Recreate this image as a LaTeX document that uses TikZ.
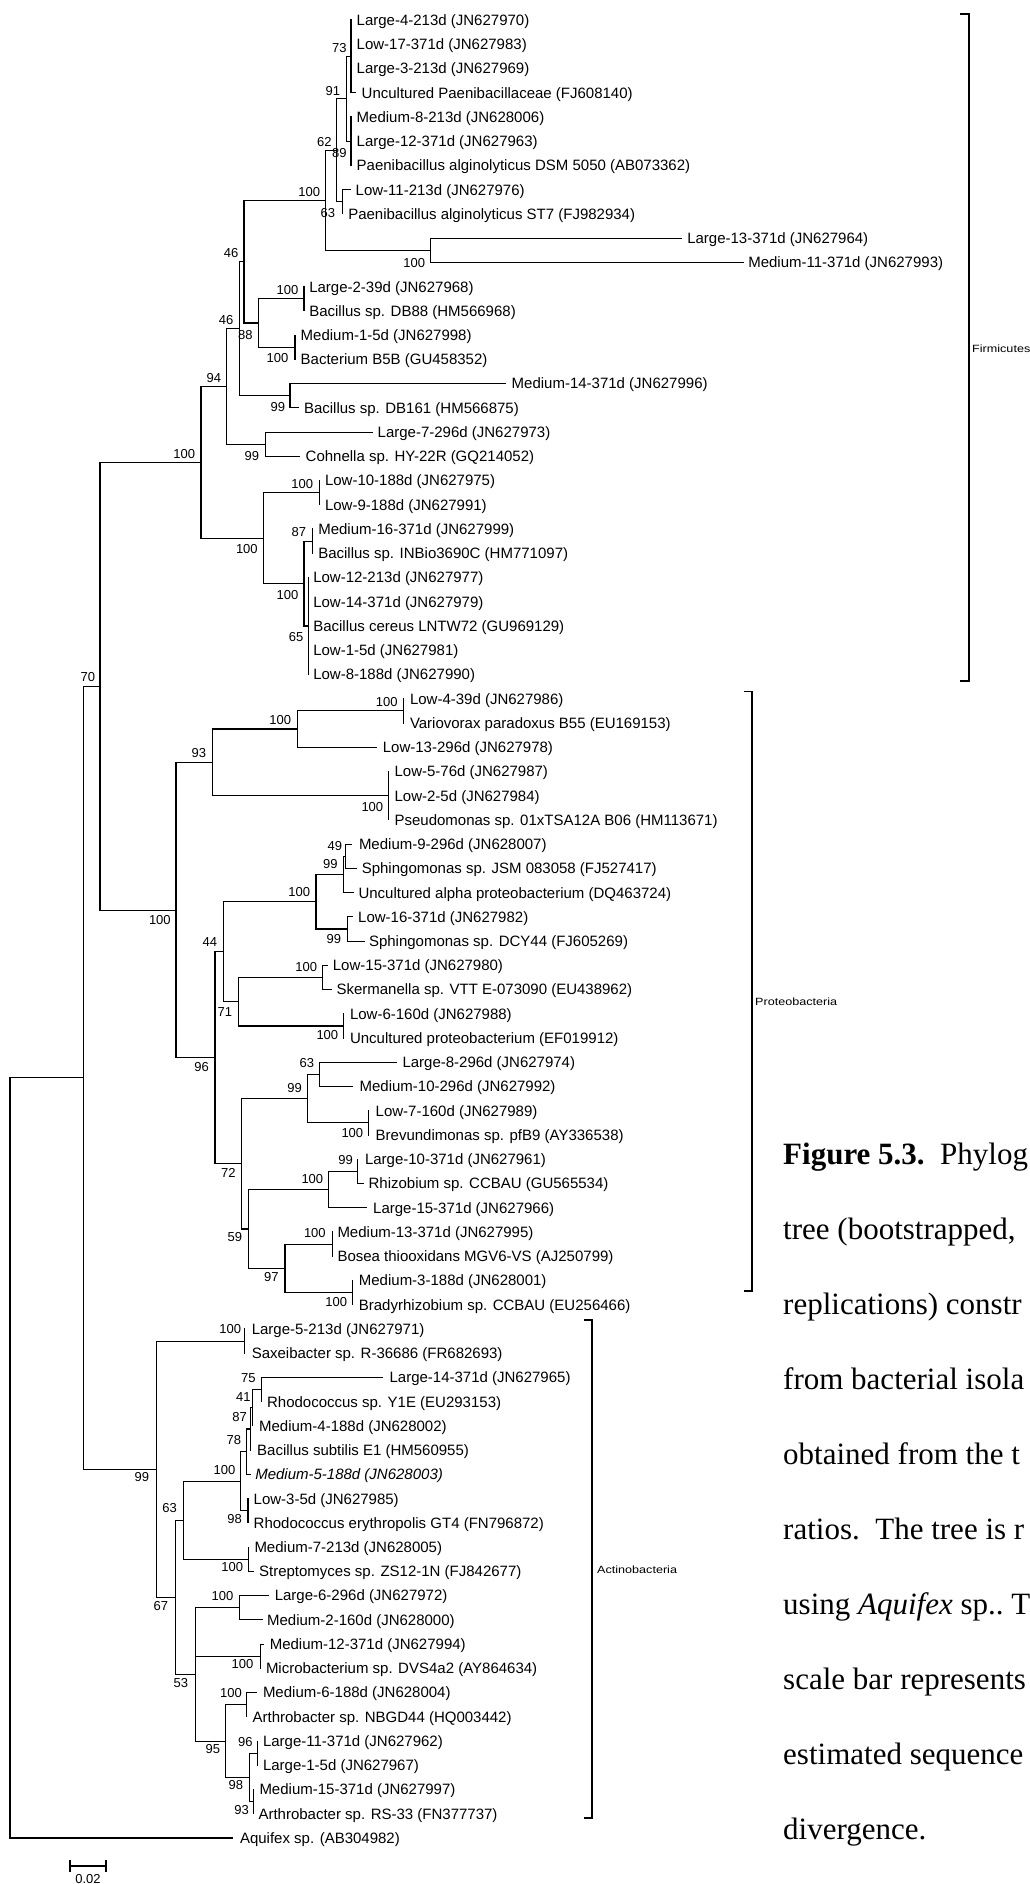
\documentclass[tikz,border=0pt]{standalone}
\usepackage{fontspec}
\setmainfont{Liberation Sans}
\newfontfamily\capserif{Liberation Serif}
\newcommand\myLf{\fontsize{15}{18}\selectfont}
\newcommand\myBs{\fontsize{13}{15}\selectfont}
\newcommand\myGf{\fontsize{10.5}{12}\selectfont}
\newcommand\myCf{\capserif\fontsize{31}{37}\selectfont}
\newcommand\leafat[5]{\coordinate (t#1) at (#2,#4); \node[leaf] (l#1) at (#3,#4) {#5};}
\tikzset{
  br/.style={line width=1.1pt, line cap=rect},
  leaf/.style={anchor=west, inner sep=0pt, outer sep=0pt, text height=10.74pt, text depth=0pt, font=\myLf},
  bs/.style={anchor=east, inner sep=0pt, outer sep=0pt, text height=9.3pt, text depth=0pt, font=\myBs},
  grp/.style={anchor=west, inner sep=0pt, font=\myGf},
  capline/.style={anchor=base west, inner sep=0pt, font=\myCf},
}
\begin{document}
\begin{tikzpicture}[x=1pt,y=-1pt]
\useasboundingbox (0,0) rectangle (1029,1884);
\clip (0,0) rectangle (1029,1884);
\fill[white] (0,0) rectangle (1029,1884);

% internal nodes
\coordinate (A) at (351,56.36);
\coordinate (B) at (351,141.2);
\coordinate (C) at (346.7,98.78);
\coordinate (E) at (342.3,201.8);
\coordinate (D) at (336.7,150.29);
\coordinate (G) at (430.7,250.28);
\coordinate (F) at (325.7,200.29);
\coordinate (K) at (304,298.76);
\coordinate (L) at (295,347.24);
\coordinate (I) at (258.3,323.0);
\coordinate (H) at (244,261.64);
\coordinate (N) at (290,395.72);
\coordinate (J) at (239.3,328.68);
\coordinate (Q) at (265.7,444.2);
\coordinate (P) at (226.7,386.44);
\coordinate (T) at (319.3,492.68);
\coordinate (V) at (312.7,541.16);
\coordinate (W) at (308.3,626.0);
\coordinate (U) at (304,583.58);
\coordinate (S) at (263.3,538.13);
\coordinate (R) at (201,462.29);
\coordinate (AC) at (403.6,710.84);
\coordinate (AB) at (297.5,729.02);
\coordinate (AD) at (388.6,795.68);
\coordinate (AA) at (212.5,762.35);
\coordinate (AJ) at (345.7,856.28);
\coordinate (AI) at (343.6,874.46);
\coordinate (AK) at (347.1,929.0);
\coordinate (AH) at (316,901.73);
\coordinate (AM) at (322.5,977.48);
\coordinate (AN) at (343.9,1025.96);
\coordinate (AL) at (238.2,1001.72);
\coordinate (AF) at (223.2,951.73);
\coordinate (AP) at (319.6,1074.44);
\coordinate (AQ) at (368.6,1122.92);
\coordinate (AO) at (307.1,1098.68);
\coordinate (AT) at (357.9,1171.4);
\coordinate (AS) at (328.6,1189.58);
\coordinate (AV) at (332.1,1244.12);
\coordinate (AW) at (352.5,1292.6);
\coordinate (AU) at (285,1268.36);
\coordinate (AR) at (248.2,1228.97);
\coordinate (AG) at (241.8,1163.83);
\coordinate (AE) at (215,1057.78);
\coordinate (Y) at (176,910.07);
\coordinate (X) at (100,686.18);
\coordinate (BB) at (244.9,1341.08);
\coordinate (n75) at (261.4,1389.56);
\coordinate (n41) at (252.6,1407.74);
\coordinate (n87) at (250.7,1428.95);
\coordinate (n78) at (246.8,1451.68);
\coordinate (n98a) at (248,1510.76);
\coordinate (BE) at (240.3,1481.22);
\coordinate (BG) at (248.8,1559.24);
\coordinate (BD) at (183.7,1520.23);
\coordinate (BI) at (239.2,1607.72);
\coordinate (BJ) at (260.2,1656.2);
\coordinate (BL) at (246.8,1704.68);
\coordinate (n96) at (257.2,1753.16);
\coordinate (n93) at (253.5,1801.64);
\coordinate (n98b) at (249.5,1777.4);
\coordinate (BK) at (225.8,1741.04);
\coordinate (BH) at (195.2,1674.38);
\coordinate (BC) at (175.3,1597.3);
\coordinate (BA) at (156.1,1469.19);
\coordinate (Z) at (83.5,1077.69);
\coordinate (O) at (10,1457.8);

% leaves: index, tip x, label x, y, text
\leafat{1}{351}{356.7}{20.0}{Large-4-213d (JN627970)}
\leafat{2}{351}{356.7}{44.24}{Low-17-371d (JN627983)}
\leafat{3}{351}{356.7}{68.48}{Large-3-213d (JN627969)}
\leafat{4}{355}{361.7}{92.72}{Uncultured Paenibacillaceae (FJ608140)}
\leafat{5}{351}{356.7}{116.96}{Medium-8-213d (JN628006)}
\leafat{6}{351}{356.7}{141.2}{Large-12-371d (JN627963)}
\leafat{7}{351}{356.7}{165.44}{Paenibacillus alginolyticus DSM 5050 (AB073362)}
\leafat{8}{350.7}{355.7}{189.68}{Low-11-213d (JN627976)}
\leafat{9}{342.3}{348.3}{213.92}{Paenibacillus alginolyticus ST7 (FJ982934)}
\leafat{10}{681.7}{687.3}{238.16}{Large-13-371d (JN627964)}
\leafat{11}{743}{748.3}{262.4}{Medium-11-371d (JN627993)}
\leafat{12}{304}{309.3}{286.64}{Large-2-39d (JN627968)}
\leafat{13}{304}{309.3}{310.88}{Bacillus sp. DB88 (HM566968)}
\leafat{14}{295}{300.7}{335.12}{Medium-1-5d (JN627998)}
\leafat{15}{295}{300.7}{359.36}{Bacterium B5B (GU458352)}
\leafat{16}{505}{511.7}{383.6}{Medium-14-371d (JN627996)}
\leafat{17}{298.3}{304}{407.84}{Bacillus sp. DB161 (HM566875)}
\leafat{18}{372.7}{377.7}{432.08}{Large-7-296d (JN627973)}
\leafat{19}{299.3}{305.7}{456.32}{Cohnella sp. HY-22R (GQ214052)}
\leafat{20}{319.3}{325}{480.56}{Low-10-188d (JN627975)}
\leafat{21}{319.3}{325}{504.8}{Low-9-188d (JN627991)}
\leafat{22}{312.7}{318.3}{529.04}{Medium-16-371d (JN627999)}
\leafat{23}{312.7}{318.3}{553.28}{Bacillus sp. INBio3690C (HM771097)}
\leafat{24}{308.3}{313.3}{577.52}{Low-12-213d (JN627977)}
\leafat{25}{308.3}{313.3}{601.76}{Low-14-371d (JN627979)}
\leafat{26}{308.3}{313.3}{626.0}{Bacillus cereus LNTW72 (GU969129)}
\leafat{27}{308.3}{313.3}{650.24}{Low-1-5d (JN627981)}
\leafat{28}{308.3}{313.3}{674.48}{Low-8-188d (JN627990)}
\leafat{29}{403.6}{410}{698.72}{Low-4-39d (JN627986)}
\leafat{30}{403.6}{410}{722.96}{Variovorax paradoxus B55 (EU169153)}
\leafat{31}{376.8}{382.9}{747.2}{Low-13-296d (JN627978)}
\leafat{32}{388.6}{394.6}{771.44}{Low-5-76d (JN627987)}
\leafat{33}{388.6}{394.6}{795.68}{Low-2-5d (JN627984)}
\leafat{34}{388.6}{394.6}{819.92}{Pseudomonas sp. 01xTSA12A B06 (HM113671)}
\leafat{35}{351.8}{359}{844.16}{Medium-9-296d (JN628007)}
\leafat{36}{356}{361.8}{868.4}{Sphingomonas sp. JSM 083058 (FJ527417)}
\leafat{37}{353.6}{358.5}{892.64}{Uncultured alpha proteobacterium (DQ463724)}
\leafat{38}{352.5}{358.2}{916.88}{Low-16-371d (JN627982)}
\leafat{39}{364.3}{369}{941.12}{Sphingomonas sp. DCY44 (FJ605269)}
\leafat{40}{327.5}{332.9}{965.36}{Low-15-371d (JN627980)}
\leafat{41}{331}{336.5}{989.6}{Skermanella sp. VTT E-073090 (EU438962)}
\leafat{42}{343.9}{350}{1013.84}{Low-6-160d (JN627988)}
\leafat{43}{343.9}{350}{1038.08}{Uncultured proteobacterium (EF019912)}
\leafat{44}{396.4}{402.5}{1062.32}{Large-8-296d (JN627974)}
\leafat{45}{352.9}{359.6}{1086.56}{Medium-10-296d (JN627992)}
\leafat{46}{368.6}{375.7}{1110.8}{Low-7-160d (JN627989)}
\leafat{47}{368.6}{375.7}{1135.04}{Brevundimonas sp. pfB9 (AY336538)}
\leafat{48}{357.9}{365}{1159.28}{Large-10-371d (JN627961)}
\leafat{49}{363.2}{368.6}{1183.52}{Rhizobium sp. CCBAU (GU565534)}
\leafat{50}{366.8}{373.2}{1207.76}{Large-15-371d (JN627966)}
\leafat{51}{332.1}{337.5}{1232.0}{Medium-13-371d (JN627995)}
\leafat{52}{332.1}{337.5}{1256.24}{Bosea thiooxidans MGV6-VS (AJ250799)}
\leafat{53}{352.5}{358.9}{1280.48}{Medium-3-188d (JN628001)}
\leafat{54}{352.5}{358.9}{1304.72}{Bradyrhizobium sp. CCBAU (EU256466)}
\leafat{55}{244.9}{251.8}{1328.96}{Large-5-213d (JN627971)}
\leafat{56}{244.9}{251.8}{1353.2}{Saxeibacter sp. R-36686 (FR682693)}
\leafat{57}{382.7}{389.6}{1377.44}{Large-14-371d (JN627965)}
\leafat{58}{261.4}{267.1}{1401.68}{Rhodococcus sp. Y1E (EU293153)}
\leafat{59}{252.6}{259.1}{1425.92}{Medium-4-188d (JN628002)}
\leafat{60}{250.7}{257.2}{1450.16}{Bacillus subtilis E1 (HM560955)}
\leafat{61}{250.7}{255.3}{1474.4}{\itshape Medium-5-188d (JN628003)}
\leafat{62}{248}{253.7}{1498.64}{Low-3-5d (JN627985)}
\leafat{63}{248}{253.7}{1522.88}{Rhodococcus erythropolis GT4 (FN796872)}
\leafat{64}{248.8}{254.5}{1547.12}{Medium-7-213d (JN628005)}
\leafat{65}{253.4}{259.1}{1571.36}{Streptomyces sp. ZS12-1N (FJ842677)}
\leafat{66}{268.7}{274.8}{1595.6}{Large-6-296d (JN627972)}
\leafat{67}{262.2}{267.1}{1619.84}{Medium-2-160d (JN628000)}
\leafat{68}{263.3}{269.8}{1644.08}{Medium-12-371d (JN627994)}
\leafat{69}{260.2}{266}{1668.32}{Microbacterium sp. DVS4a2 (AY864634)}
\leafat{70}{256}{263}{1692.56}{Medium-6-188d (JN628004)}
\leafat{71}{246.8}{252.6}{1716.8}{Arthrobacter sp. NBGD44 (HQ003442)}
\leafat{72}{257.2}{263}{1741.04}{Large-11-371d (JN627962)}
\leafat{73}{257.2}{263}{1765.28}{Large-1-5d (JN627967)}
\leafat{74}{253.5}{259.5}{1789.52}{Medium-15-371d (JN627997)}
\leafat{75}{253.5}{258.5}{1813.76}{Arthrobacter sp. RS-33 (FN377737)}
\leafat{76}{232}{240}{1838.0}{Aquifex sp. (AB304982)}

% branches
\foreach \p/\c in {A/t1,A/t2,A/t3,A/t4,B/t5,B/t6,B/t7,C/A,C/B,E/t8,E/t9,D/C,D/E,
  G/t10,G/t11,F/D,F/G,K/t12,K/t13,L/t14,L/t15,I/K,I/L,H/F,H/I,N/t16,N/t17,J/H,J/N,
  Q/t18,Q/t19,P/J,P/Q,T/t20,T/t21,V/t22,V/t23,W/t24,W/t25,W/t26,W/t27,W/t28,U/V,U/W,
  S/T,S/U,R/P,R/S,AC/t29,AC/t30,AB/AC,AB/t31,AD/t32,AD/t33,AD/t34,AA/AB,AA/AD,
  AJ/t35,AJ/t36,AI/AJ,AI/t37,AK/t38,AK/t39,AH/AI,AH/AK,AM/t40,AM/t41,AN/t42,AN/t43,
  AL/AM,AL/AN,AF/AH,AF/AL,AP/t44,AP/t45,AQ/t46,AQ/t47,AO/AP,AO/AQ,AT/t48,AT/t49,
  AS/AT,AS/t50,AV/t51,AV/t52,AW/t53,AW/t54,AU/AV,AU/AW,AR/AS,AR/AU,AG/AO,AG/AR,
  AE/AF,AE/AG,Y/AA,Y/AE,X/R,X/Y,BB/t55,BB/t56,n75/t57,n75/t58,n41/n75,n41/t59,
  n87/n41,n87/t60,n78/n87,n78/t61,n98a/t62,n98a/t63,BE/n78,BE/n98a,BG/t64,BG/t65,
  BD/BE,BD/BG,BI/t66,BI/t67,BJ/t68,BJ/t69,BL/t70,BL/t71,n96/t72,n96/t73,n93/t74,
  n93/t75,n98b/n96,n98b/n93,BK/BL,BK/n98b,BH/BI,BH/BJ,BH/BK,BC/BD,BC/BH,BA/BB,BA/BC,
  Z/X,Z/BA,O/Z,O/t76}
  \draw[br] (\p) |- (\c);

% bootstrap values
\foreach \n/\x/\y/\t in {1/346.7/48.3/73,2/340/90.7/91,3/331.7/141.7/62,4/346.7/153.3/89,
  5/320/192/100,6/335/213.3/63,7/425/263/100,8/238.3/253.3/46,9/298.3/290/100,
  10/252.7/335/88,11/288.3/358.3/100,12/233.3/320/46,13/221/378/94,14/285/406.7/99,
  15/259/455.7/99,16/195/454/100,17/313/484.3/100,18/257.7/549.3/100,19/306/532.3/87,
  20/298.3/595/100,21/303.3/636.7/65,22/95/676.7/70,23/397.5/702.3/100,24/291/720/100,
  25/206/752.7/93,26/383.2/806.7/100,27/342/845.7/49,28/337.5/864.3/99,29/310/891.7/100,
  30/170.7/920/100,31/341/939.3/99,32/217/942.3/44,33/317/967.3/100,34/232/1011.7/71,
  35/338.2/1035/100,36/208.9/1066.7/96,37/314/1063.3/63,38/301.8/1087.7/99,
  39/363.2/1132.7/100,40/352.9/1160/99,41/235.7/1172.7/72,42/323.2/1179.3/100,
  43/325.7/1232.7/100,44/242/1237.3/59,45/278.6/1276.7/97,46/347/1301.7/100,
  47/241/1329.3/100,48/255.6/1378.3/75,49/250.7/1396.7/41,50/246.8/1417.3/87,
  51/241.1/1440/78,52/235.4/1470/100,53/149/1476.7/99,54/176.8/1508.3/63,
  55/241.9/1519.3/98,56/243/1567.3/100,57/233.4/1596/100,58/168/1605.7/67,
  59/253.4/1664.3/100,60/188/1683.3/53,61/241.9/1693.3/100,62/252.6/1741.7/96,
  63/220/1749.3/95,64/243/1785/98,65/248.8/1810/93}
  \node[bs] (b\n) at (\x,\y) {\t};

% group brackets
\coordinate (fa) at (961,14); \coordinate (fb) at (969,14);
\coordinate (fc) at (969,681); \coordinate (fd) at (961,681);
\draw[br] (fa) -- (fb) -- (fc) -- (fd);
\node[grp] (gF) at (972,349) {\scalebox{1.2}[1]{Firmicutes}};
\coordinate (pa) at (744.5,691.5); \coordinate (pb) at (752,691.5);
\coordinate (pc) at (752,1291); \coordinate (pd) at (744.5,1291);
\draw[br] (pa) -- (pb) -- (pc) -- (pd);
\node[grp] (gP) at (755,1002) {\scalebox{1.2}[1]{Proteobacteria}};
\coordinate (aa) at (585,1320); \coordinate (ab) at (592,1320);
\coordinate (ac) at (592,1818); \coordinate (ad) at (585,1818);
\draw[br] (aa) -- (ab) -- (ac) -- (ad);
\node[grp] (gA) at (597,1570) {\scalebox{1.2}[1]{Actinobacteria}};

% scale bar
\coordinate (s1) at (70,1866); \coordinate (s2) at (106,1866);
\coordinate (s1a) at (70,1861); \coordinate (s1b) at (70,1871);
\coordinate (s2a) at (106,1861); \coordinate (s2b) at (106,1871);
\draw[br] (s1) -- (s2);
\draw[br] (s1a) -- (s1b);
\draw[br] (s2a) -- (s2b);
\node[anchor=base, inner sep=0pt, font=\fontsize{13}{15}\selectfont] (sl) at (88,1883) {0.02};

% caption
\node[capline] (c0) at (783,1164) {\textbf{Figure 5.3.}\ \ Phylog};
\node[capline] (c1) at (783,1239) {tree (bootstrapped,};
\node[capline] (c2) at (783,1314) {replications) constr};
\node[capline] (c3) at (783,1389) {from bacterial isola};
\node[capline] (c4) at (783,1464) {obtained from the t};
\node[capline] (c5) at (783,1539) {ratios.\ \ The tree is r};
\node[capline] (c6) at (783,1614) {using \textit{Aquifex} sp..\ T};
\node[capline] (c7) at (783,1689) {scale bar represents};
\node[capline] (c8) at (783,1764) {estimated sequence};
\node[capline] (c9) at (783,1839) {divergence.};
\end{tikzpicture}
\end{document}
